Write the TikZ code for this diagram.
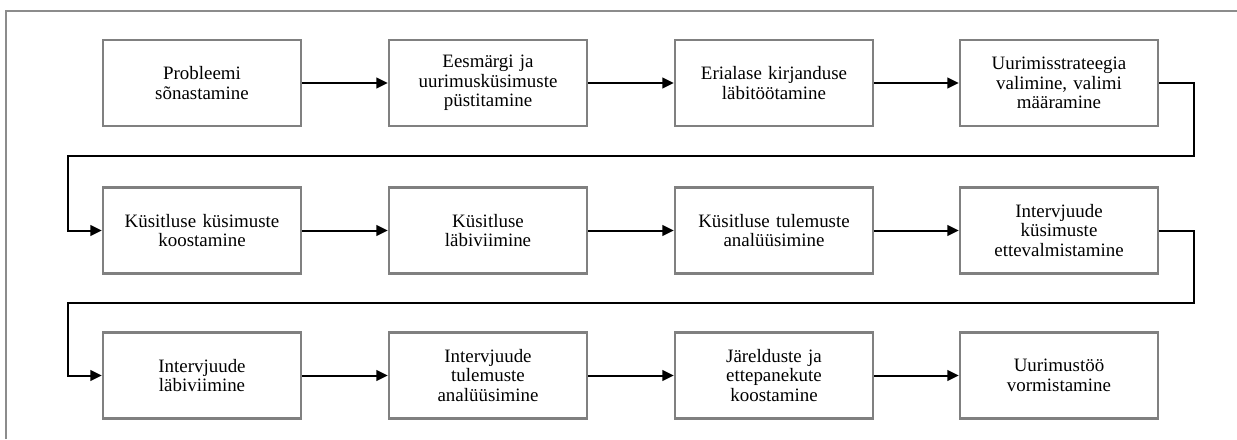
\documentclass[tikz,border=0pt]{standalone}
\usepackage{fontspec}
\setmainfont{Liberation Serif}
\usetikzlibrary{arrows.meta}

\tikzset{every picture/.style={line width=0.75pt}}
\tikzset{
  stepbox/.style={draw={rgb, 255:red, 128; green, 128; blue, 128 }, line width=2pt, fill=white,
    minimum width=148.5pt, minimum height=64.5pt, text width=142pt, align=center,
    inner sep=0.75pt, font=\fontsize{14.2}{14.8}\selectfont},
  flow/.style={draw=black, line width=1.5pt, -{Triangle[length=8.5pt,width=8pt]}}
}

\begin{document}
\begin{tikzpicture}[x=0.75pt,y=0.75pt,yscale=-1,xscale=1]
\useasboundingbox (0,0) rectangle (1237,439);

%Straight Lines (frame)
\draw [color={rgb, 255:red, 140; green, 140; blue, 140 }, line width=1pt]  (6,439) -- (6,11) -- (1237,11) ;

%Shape: Rectangle, row 1
\node [stepbox] (prob) at (202,83) {Probleemi\\sõnastamine};
\node [stepbox] (eesm) at (488,83) {Eesmärgi ja\\uurimusküsimuste\\püstitamine};
\node [stepbox] (kirj) at (774,83) {Erialase kirjanduse\\läbitöötamine};
\node [stepbox] (strat) at (1059,83) {Uurimisstrateegia\\valimine, valimi\\määramine};

%Shape: Rectangle, row 2
\node [stepbox] (kkoost) at (202,230.5) {Küsitluse küsimuste\\koostamine};
\node [stepbox] (klabi) at (488,230.5) {Küsitluse\\läbiviimine};
\node [stepbox] (kanal) at (774,230.5) {Küsitluse tulemuste\\analüüsimine};
\node [stepbox] (iette) at (1059,230.5) {Intervjuude\\küsimuste\\ettevalmistamine};

%Shape: Rectangle, row 3
\node [stepbox] (ilabi) at (202,375.5) {Intervjuude\\läbiviimine};
\node [stepbox] (ianal) at (488,375.5) {Intervjuude\\tulemuste\\analüüsimine};
\node [stepbox] (jarel) at (774,375.5) {Järelduste ja\\ettepanekute\\koostamine};
\node [stepbox] (vorm) at (1059,375.5) {Uurimustöö\\vormistamine};

%Straight Lines
\draw [flow] (prob) -- (eesm) ;
\draw [flow] (eesm) -- (kirj) ;
\draw [flow] (kirj) -- (strat) ;
\draw [flow] (kkoost) -- (klabi) ;
\draw [flow] (klabi) -- (kanal) ;
\draw [flow] (kanal) -- (iette) ;
\draw [flow] (ilabi) -- (ianal) ;
\draw [flow] (ianal) -- (jarel) ;
\draw [flow] (jarel) -- (vorm) ;

%Elbow lines between rows
\draw [flow] (strat.east) -- (1194,83) -- (1194,156) -- (68,156) -- (68,230.5) -- (kkoost.west) ;
\draw [flow] (iette.east) -- (1194,230.5) -- (1194,303) -- (68,303) -- (68,375.5) -- (ilabi.west) ;

\end{tikzpicture}
\end{document}
